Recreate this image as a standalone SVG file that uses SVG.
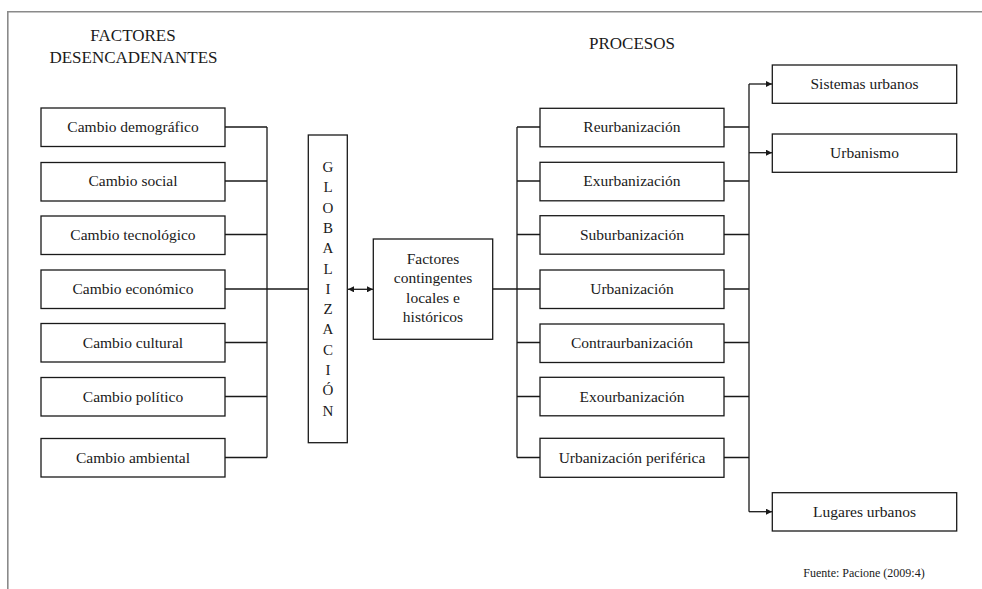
<svg xmlns="http://www.w3.org/2000/svg" width="982" height="589" viewBox="0 0 982 589">
<style>
text{font-family:"Liberation Serif","Times New Roman",serif;fill:#1a1a1a;}
.box{fill:#fff;stroke:#1a1a1a;stroke-width:1.3;}
.lbl{font-size:15.5px;text-anchor:middle;}
.title{font-size:17px;text-anchor:middle;}
.glob{font-size:15px;text-anchor:middle;}
.ln{fill:none;stroke:#1a1a1a;stroke-width:1.3;}
.frame{fill:none;stroke:#8a8a8a;stroke-width:1.6;}
</style>
<defs>
<marker id="ah" viewBox="0 0 10 10" refX="10" refY="5" markerWidth="7" markerHeight="6" markerUnits="userSpaceOnUse" orient="auto-start-reverse">
<path d="M0,0 L10,5 L0,10 z" fill="#1a1a1a"/>
</marker>
</defs>
<rect width="982" height="589" fill="#fff"/>
<path class="frame" d="M7.8,589 V11.8 H982"/>
<text class="title" x="133" y="41">FACTORES</text>
<text class="title" x="133.5" y="63">DESENCADENANTES</text>
<text class="title" x="632" y="49">PROCESOS</text>

<g id="connectors">
<path class="ln" d="M225,127 H267 M225,181 H267 M225,234.5 H267 M225,289 H308 M225,342.5 H267 M225,396.5 H267 M225,457.5 H267 M267,127 V457.5"/>
<path class="ln" d="M348,289.3 H373" marker-start="url(#ah)" marker-end="url(#ah)"/>
<path class="ln" d="M493,289 H540 M517,127 V457.5 M517,127 H540 M517,181 H540 M517,234.5 H540 M517,342.5 H540 M517,396.5 H540 M517,457.5 H540"/>
<path class="ln" d="M724,127 H749 M724,181 H749 M724,234.5 H749 M724,289 H749 M724,342.5 H749 M724,396.5 H749 M724,457.5 H749 M749,84 V511.7"/>
<path class="ln" d="M749,84 H772" marker-end="url(#ah)"/>
<path class="ln" d="M749,152.7 H772" marker-end="url(#ah)"/>
<path class="ln" d="M749,511.7 H772" marker-end="url(#ah)"/>
</g>

<g id="n-demografico"><rect class="box" x="41" y="108" width="184" height="38.5"/><text class="lbl" x="133" y="132">Cambio demográfico</text></g>
<g id="n-social"><rect class="box" x="41" y="162.5" width="184" height="38.5"/><text class="lbl" x="133" y="186">Cambio social</text></g>
<g id="n-tecnologico"><rect class="box" x="41" y="216" width="184" height="38.5"/><text class="lbl" x="133" y="239.5">Cambio tecnológico</text></g>
<g id="n-economico"><rect class="box" x="41" y="270" width="184" height="38.5"/><text class="lbl" x="133" y="294">Cambio económico</text></g>
<g id="n-cultural"><rect class="box" x="41" y="323.5" width="184" height="38.5"/><text class="lbl" x="133" y="347.5">Cambio cultural</text></g>
<g id="n-politico"><rect class="box" x="41" y="377.5" width="184" height="38.5"/><text class="lbl" x="133" y="401.5">Cambio político</text></g>
<g id="n-ambiental"><rect class="box" x="41" y="438.5" width="184" height="38.5"/><text class="lbl" x="133" y="462.5">Cambio ambiental</text></g>

<g id="n-globalizacion">
<rect class="box" x="308.3" y="135" width="39" height="307.7"/>
<text class="glob" x="328" y="172">G</text>
<text class="glob" x="328" y="192.3">L</text>
<text class="glob" x="328" y="212.6">O</text>
<text class="glob" x="328" y="232.9">B</text>
<text class="glob" x="328" y="253.2">A</text>
<text class="glob" x="328" y="273.5">L</text>
<text class="glob" x="328" y="293.8">I</text>
<text class="glob" x="328" y="314.1">Z</text>
<text class="glob" x="328" y="334.4">A</text>
<text class="glob" x="328" y="354.7">C</text>
<text class="glob" x="328" y="375">I</text>
<text class="glob" x="328" y="395.3">Ó</text>
<text class="glob" x="328" y="415.6">N</text>
</g>

<g id="n-factores">
<rect class="box" x="373.3" y="239" width="119.4" height="100.3"/>
<text class="lbl" x="433" y="263.5">Factores</text>
<text class="lbl" x="433" y="283">contingentes</text>
<text class="lbl" x="433" y="302.5">locales e</text>
<text class="lbl" x="433" y="322">históricos</text>
</g>

<g id="n-reurbanizacion"><rect class="box" x="540" y="108.3" width="184" height="38.5"/><text class="lbl" x="632" y="132">Reurbanización</text></g>
<g id="n-exurbanizacion"><rect class="box" x="540" y="162.3" width="184" height="38.5"/><text class="lbl" x="632" y="186">Exurbanización</text></g>
<g id="n-suburbanizacion"><rect class="box" x="540" y="215.7" width="184" height="38.5"/><text class="lbl" x="632" y="239.5">Suburbanización</text></g>
<g id="n-urbanizacion"><rect class="box" x="540" y="270" width="184" height="38.5"/><text class="lbl" x="632" y="294">Urbanización</text></g>
<g id="n-contraurbanizacion"><rect class="box" x="540" y="324" width="184" height="38.5"/><text class="lbl" x="632" y="347.5">Contraurbanización</text></g>
<g id="n-exourbanizacion"><rect class="box" x="540" y="377.3" width="184" height="38.5"/><text class="lbl" x="632" y="401.5">Exourbanización</text></g>
<g id="n-periferica"><rect class="box" x="540" y="438.3" width="184" height="39"/><text class="lbl" x="632" y="462.5">Urbanización periférica</text></g>

<g id="n-sistemas"><rect class="box" x="772.3" y="65" width="184.4" height="38.3"/><text class="lbl" x="864.5" y="89">Sistemas urbanos</text></g>
<g id="n-urbanismo"><rect class="box" x="772.3" y="134" width="184.4" height="38.3"/><text class="lbl" x="864.5" y="158">Urbanismo</text></g>
<g id="n-lugares"><rect class="box" x="772.3" y="492.7" width="184.4" height="38.3"/><text class="lbl" x="864.5" y="516.5">Lugares urbanos</text></g>

<text x="864" y="577" font-size="12" text-anchor="middle">Fuente: Pacione (2009:4)</text>
</svg>
